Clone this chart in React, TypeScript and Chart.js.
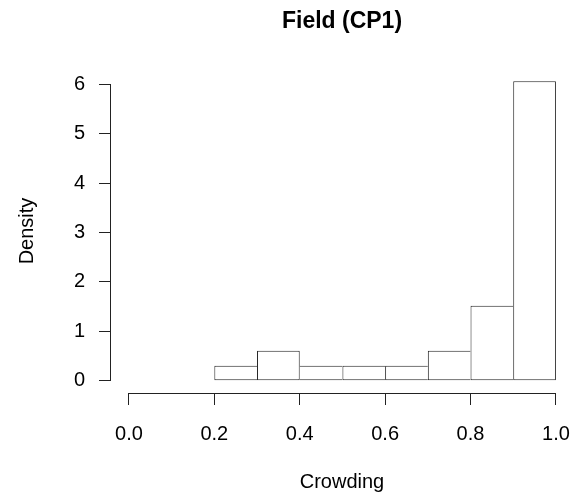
import React, { useEffect, useRef } from "react";
import { Chart, registerables } from "chart.js";

Chart.register(...registerables);

const chartTitle = "Field (CP1)";
const xAxisTitle = "Crowding";
const yAxisTitle = "Density";

const binStarts = [0.2, 0.3, 0.4, 0.5, 0.6, 0.7, 0.8, 0.9];
const binWidth = 0.1;
const densities = [0.303, 0.606, 0.303, 0.303, 0.303, 0.606, 1.515, 6.061];

const xTicks = [0, 0.2, 0.4, 0.6, 0.8, 1.0];
const xTickLabels = ["0.0", "0.2", "0.4", "0.6", "0.8", "1.0"];
const yTicks = [0, 1, 2, 3, 4, 5, 6];
const yTickLabels = ["0", "1", "2", "3", "4", "5", "6"];

const X_MIN = -0.042;
const X_MAX = 1.04;
const Y_MIN = -0.25;
const Y_MAX = 6.31;

const FONT = '"Liberation Sans", Arial, Helvetica, sans-serif';
const TEXT = "#000000";
const LINE = "#222222";

const rAxesPlugin = {
  id: "rAxes",
  afterDraw(chart: any) {
    const { ctx, chartArea, scales } = chart;
    const x = scales.x;
    const y = scales.y;
    ctx.save();
    ctx.strokeStyle = LINE;
    ctx.lineWidth = 1;
    ctx.beginPath();
    const yb = Math.round(chartArea.bottom) + 0.5;
    ctx.moveTo(x.getPixelForValue(xTicks[0]), yb);
    ctx.lineTo(x.getPixelForValue(xTicks[xTicks.length - 1]), yb);
    const xl = Math.round(chartArea.left) - 0.5;
    ctx.moveTo(xl, y.getPixelForValue(yTicks[0]));
    ctx.lineTo(xl, y.getPixelForValue(yTicks[yTicks.length - 1]));
    ctx.stroke();

    ctx.fillStyle = TEXT;
    ctx.font = `bold 23px ${FONT}`;
    ctx.textAlign = "center";
    ctx.textBaseline = "alphabetic";
    ctx.fillText(chartTitle, (chartArea.left + chartArea.right) / 2, 28);
    ctx.restore();
  },
};

export default function App() {
  const canvasRef = useRef<HTMLCanvasElement | null>(null);

  useEffect(() => {
    const canvas = canvasRef.current;
    if (!canvas) return;
    const data = binStarts.map((s, i) => ({ x: s + binWidth / 2, y: densities[i] }));
    const chart = new Chart(canvas, {
      type: "bar",
      data: {
        datasets: [
          {
            data,
            backgroundColor: "#ffffff",
            borderColor: LINE,
            borderSkipped: false,
            inflateAmount: 0,
            barPercentage: 1,
            categoryPercentage: 1,
            borderWidth: (c: any) => {
              const i = c.dataIndex;
              const h = densities;
              return {
                top: 1,
                bottom: 1,
                left: i === 0 || h[i] >= h[i - 1] ? 1 : 0,
                right: i === h.length - 1 || h[i] > h[i + 1] ? 1 : 0,
              };
            },
          } as any,
        ],
      },
      options: {
        animation: false,
        responsive: false,
        maintainAspectRatio: false,
        events: [],
        layout: { padding: { top: 69, right: 3, left: 0, bottom: 0 } },
        plugins: {
          legend: { display: false },
          tooltip: { enabled: false },
          title: { display: false },
        },
        scales: {
          x: {
            type: "linear",
            min: X_MIN,
            max: X_MAX,
            offset: false,
            grid: {
              display: true,
              offset: false,
              drawOnChartArea: false,
              drawTicks: true,
              tickLength: 12,
              color: LINE,
              lineWidth: 1,
            },
            border: { display: false },
            afterBuildTicks: (axis: any) => {
              axis.ticks = xTicks.map((v) => ({ value: v }));
            },
            afterFit: (axis: any) => {
              axis.height = 105;
              axis.paddingLeft = 0;
              axis.paddingRight = 0;
            },
            ticks: {
              autoSkip: false,
              maxRotation: 0,
              padding: 17,
              color: TEXT,
              font: { family: FONT, size: 20 },
              callback: (_v: any, i: number) => xTickLabels[i],
            },
            title: {
              display: true,
              text: xAxisTitle,
              color: TEXT,
              font: { family: FONT, size: 20 },
              padding: { top: 0, bottom: 4 },
            },
          },
          y: {
            type: "linear",
            min: Y_MIN,
            max: Y_MAX,
            grid: {
              display: true,
              drawOnChartArea: false,
              drawTicks: true,
              tickLength: 12,
              color: LINE,
              lineWidth: 1,
            },
            border: { display: false },
            afterBuildTicks: (axis: any) => {
              axis.ticks = yTicks.map((v) => ({ value: v }));
            },
            afterFit: (axis: any) => {
              axis.width = 111;
              axis.paddingTop = 0;
              axis.paddingBottom = 0;
            },
            ticks: {
              autoSkip: false,
              padding: 14,
              color: TEXT,
              font: { family: FONT, size: 20 },
              callback: (_v: any, i: number) => yTickLabels[i],
            },
            title: {
              display: true,
              text: yAxisTitle,
              color: TEXT,
              font: { family: FONT, size: 20 },
              padding: { top: 15, bottom: 0 },
            },
          },
        },
      },
      plugins: [rAxesPlugin],
    });
    return () => chart.destroy();
  }, []);

  return (
    <div style={{ position: "absolute", left: 0, top: 0, width: 576, height: 498, background: "#ffffff" }}>
      <canvas ref={canvasRef} width={576} height={498} style={{ display: "block", width: 576, height: 498 }} />
    </div>
  );
}
